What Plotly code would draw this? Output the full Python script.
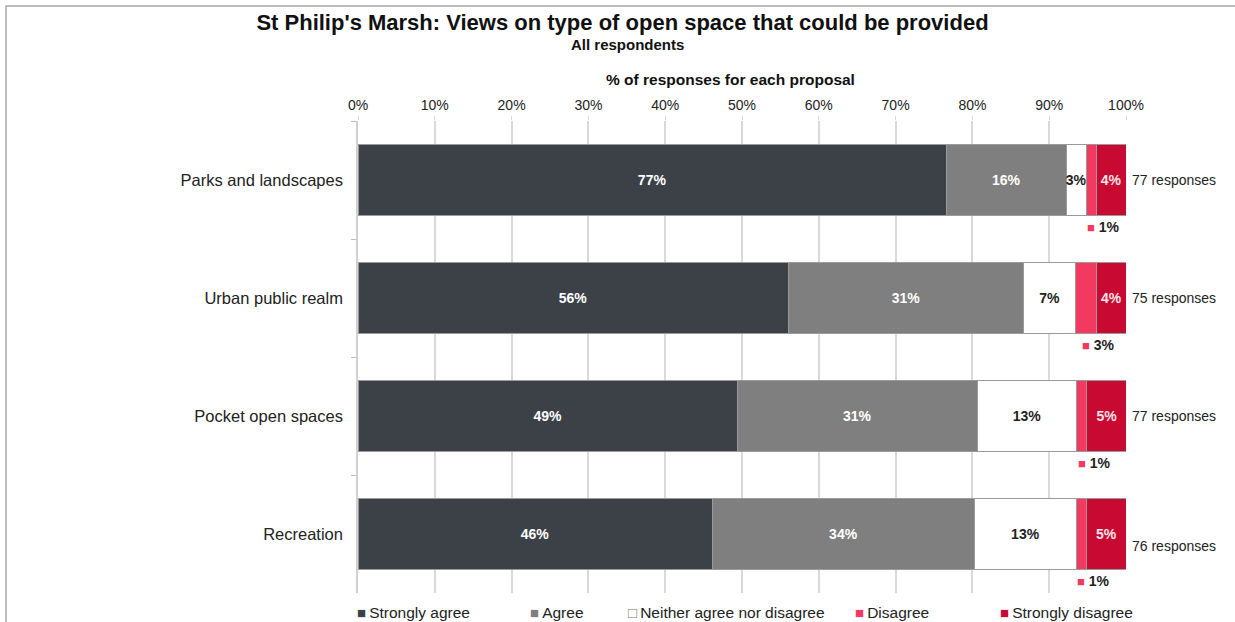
import plotly.graph_objects as go

# Survey results: share of respondents (%) per proposal
categories = ["Parks and landscapes", "Urban public realm", "Pocket open spaces", "Recreation"]
responses = [77, 75, 77, 76]
strongly_agree = [76.6, 56.0, 49.4, 46.1]
agree = [15.6, 30.7, 31.2, 34.2]
neither = [2.6, 6.7, 13.0, 13.2]
disagree = [1.3, 2.7, 1.3, 1.3]
strongly_disagree = [3.9, 4.0, 5.2, 5.3]

series_names = ["Strongly agree", "Agree", "Neither agree nor disagree", "Disagree", "Strongly disagree"]
series_values = [strongly_agree, agree, neither, disagree, strongly_disagree]
colors = ["#3c4047", "#7f7f7f", "#ffffff", "#f2395f", "#c80a32"]
text_colors = ["#ffffff", "#ffffff", "#222222", "#ffffff", "#fbe3e8"]
x_ticks = list(range(0, 101, 10))

FONT = "Liberation Sans, Arial, sans-serif"
W, H = 1235, 622
L, R, T, B = 358, 1126, 121, 593


def px_x(px):
    return (px - L) / (R - L)


def px_y(py):
    return (B - py) / (B - T)


fig = go.Figure()
for name, vals, col, tcol in zip(series_names, series_values, colors, text_colors):
    show_text = name != "Disagree"
    fig.add_trace(go.Bar(
        y=categories, x=vals, name=name, orientation="h",
        marker=dict(color=col, line=dict(color="#9a9a9a", width=1)),
        text=[f"{v:.0f}%" for v in vals] if show_text else None,
        textposition="inside", insidetextanchor="middle", constraintext="none",
        textangle=0,
        textfont=dict(family=FONT, size=14, color=tcol, weight="bold"),
        width=0.61, showlegend=False, hoverinfo="skip",
    ))

annotations = []
# Disagree values shown beneath each bar
for i, cat in enumerate(categories):
    start = strongly_agree[i] + agree[i] + neither[i]
    centre = start + disagree[i] / 2
    annotations.append(dict(
        x=centre, y=i + 0.40, xref="x", yref="y", xanchor="left", yanchor="middle",
        xshift=-6, showarrow=False,
        text=f"<span style='color:{colors[3]};font-size:13px'>■</span> <b>{disagree[i]:.0f}%</b>",
        font=dict(family=FONT, size=14, color="#222222"),
    ))
    # response counts to the right of each bar
    annotations.append(dict(
        x=100, y=i + (0.1 if i == 3 else 0), xref="x", yref="y", xanchor="left", yanchor="middle",
        xshift=4, showarrow=False, text=f"{responses[i]} responses",
        font=dict(family=FONT, size=14, color="#222222"),
    ))

annotations.append(dict(
    x=px_x(627), y=px_y(44), xref="paper", yref="paper", showarrow=False,
    text="<b>All respondents</b>", font=dict(family=FONT, size=15, color="#111111"),
    xanchor="center", yanchor="middle",
))
annotations.append(dict(
    x=px_x(730), y=px_y(79), xref="paper", yref="paper", showarrow=False,
    text="<b>% of responses for each proposal</b>", font=dict(family=FONT, size=15.5, color="#111111"),
    xanchor="center", yanchor="middle",
))

# Legend row along the bottom
legend_x = [355, 528, 626, 853, 998]
for name, col, lx in zip(series_names, colors, legend_x):
    sym = "□" if col == "#ffffff" else "■"
    scol = "#777777" if col == "#ffffff" else col
    annotations.append(dict(
        x=px_x(lx), y=px_y(612), xref="paper", yref="paper", showarrow=False,
        xanchor="left", yanchor="middle",
        text=f"<span style='color:{scol};font-size:15px'>{sym}</span>\u2009{name}",
        font=dict(family=FONT, size=15.5, color="#222222"),
    ))

fig.update_layout(
    width=W, height=H,
    margin=dict(l=L, r=W - R, t=T, b=H - B, pad=0),
    paper_bgcolor="white", plot_bgcolor="white",
    barmode="stack", bargap=0.39,
    title=dict(
        text="<b>St Philip's Marsh: Views on type of open space that could be provided</b>",
        x=622.5 / W, y=1 - 22 / H, xref="container", yref="container",
        xanchor="center", yanchor="middle",
        font=dict(family=FONT, size=22, color="#111111"),
    ),
    xaxis=dict(
        side="top", range=[0, 100], tickvals=x_ticks, ticktext=[f"{v}%" for v in x_ticks],
        showgrid=True, gridcolor="#d9d9d9", gridwidth=1.5,
        ticks="outside", ticklen=4, tickcolor="#d9d9d9",
        tickfont=dict(family=FONT, size=14, color="#222222"),
        zeroline=False, showline=False, fixedrange=True,
    ),
    yaxis=dict(
        autorange="reversed", type="category",
        showline=True, linecolor="#d0d0d0", linewidth=1.5,
        ticks="outside", tickson="boundaries", ticklen=5, tickcolor="#bdbdbd",
        tickfont=dict(family=FONT, size=16.5, color="#222222"),
        ticklabelstandoff=10, showgrid=False, fixedrange=True,
    ),
    annotations=annotations,
    shapes=[dict(
        type="rect", xref="paper", yref="paper",
        x0=px_x(6), y0=px_y(640), x1=px_x(1260), y1=px_y(6),
        line=dict(color="#a8a8a8", width=1.5), fillcolor="rgba(0,0,0,0)", layer="below",
    )],
    showlegend=False,
)

fig.write_html("out.html")
